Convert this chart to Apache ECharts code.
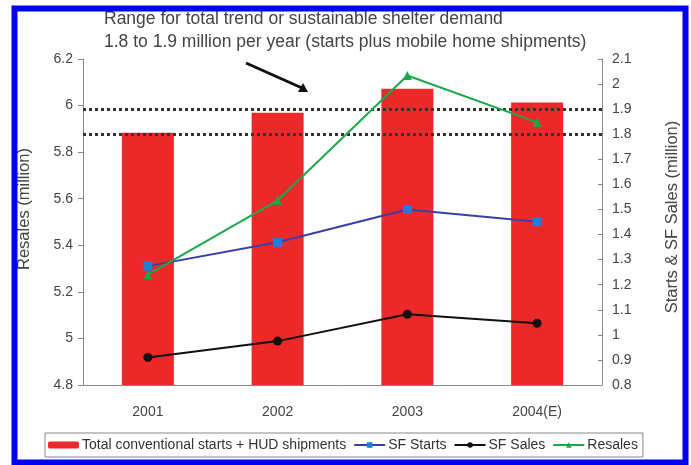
<!DOCTYPE html>
<html>
<head>
<meta charset="utf-8">
<script src="https://cdn.jsdelivr.net/npm/echarts@6/dist/echarts.min.js"></script>
<style>html,body{margin:0;padding:0;background:#fff}#c{width:691px;height:465px}</style>
</head>
<body>
<div id="c"></div>
<script>
const categories = ['2001', '2002', '2003', '2004(E)'];
const totalStarts = [1.806, 1.886, 1.981, 1.927];
const sfStarts = [1.274, 1.369, 1.50, 1.451];
const sfSales = [0.91, 0.975, 1.082, 1.046];
const resales = [5.274, 5.593, 6.129, 5.928];
const demandRange = [1.8, 1.9];
const noteLines = ['Range for total trend or sustainable shelter demand',
                   '1.8 to 1.9 million per year (starts plus mobile home shipments)'];

const FONT = '"Liberation Sans", Arial, sans-serif';
const chart = echarts.init(document.getElementById('c'));
chart.setOption({
  animation: false,
  backgroundColor: '#fff',
  grid: { left: 83, right: 89, top: 59, bottom: 80 },
  legend: {
    bottom: 8, left: 45,
    padding: [5, 5, 5, 3],
    borderColor: '#888', borderWidth: 1, borderRadius: 0,
    itemGap: 7, itemWidth: 31, itemHeight: 7,
    textStyle: { fontFamily: FONT, fontSize: 14, color: '#333', padding: [0, 0, 0, -2] },
    data: ['Total conventional starts + HUD shipments', 'SF Starts', 'SF Sales', 'Resales']
  },
  xAxis: {
    type: 'category', data: categories,
    axisLine: { lineStyle: { color: '#888' } },
    axisTick: { lineStyle: { color: '#888' }, length: 4 },
    axisLabel: { fontFamily: FONT, fontSize: 14, color: '#444', margin: 20 }
  },
  yAxis: [
    { type: 'value', min: 4.8, max: 6.2, interval: 0.2,
      name: 'Resales (million)', nameLocation: 'middle', nameRotate: 90, nameGap: 50,
      nameTextStyle: { fontFamily: FONT, fontSize: 16.5, color: '#444', padding: [0, 0, 0, 26] },
      axisLine: { show: true, lineStyle: { color: '#888' } },
      axisTick: { show: true, lineStyle: { color: '#888' }, length: 5 },
      splitLine: { show: false },
      axisLabel: { fontFamily: FONT, fontSize: 14, color: '#444', margin: 10,
                   formatter: v => String(+v.toFixed(1)) } },
    { type: 'value', min: 0.8, max: 2.1, interval: 0.1,
      name: 'Starts & SF Sales (million)', nameLocation: 'middle', nameRotate: 90, nameGap: 62,
      nameTextStyle: { fontFamily: FONT, fontSize: 16.5, color: '#444', padding: [0, 0, 0, 10] },
      axisLine: { show: true, lineStyle: { color: '#888' } },
      axisTick: { show: true, inside: true, lineStyle: { color: '#888' }, length: 4 },
      splitLine: { show: false },
      axisLabel: { fontFamily: FONT, fontSize: 14, color: '#444', margin: 10,
                   formatter: v => String(+v.toFixed(1)) } }
  ],
  series: [
    { name: 'Total conventional starts + HUD shipments', type: 'bar', yAxisIndex: 1,
      data: totalStarts, barWidth: 52, itemStyle: { color: '#ec2828' },
      markLine: { symbol: 'none', silent: true, label: { show: false },
        lineStyle: { color: '#333', type: 'dotted', width: 3 },
        data: demandRange.map(v => ({ yAxis: v })) } },
    { name: 'SF Starts', type: 'line', yAxisIndex: 1, data: sfStarts,
      symbol: 'rect', symbolSize: 9, lineStyle: { color: '#3a3fa8', width: 2 },
      itemStyle: { color: '#1f7fd6' } },
    { name: 'SF Sales', type: 'line', yAxisIndex: 1, data: sfSales,
      symbol: 'circle', symbolSize: 9, lineStyle: { color: '#111', width: 2 },
      itemStyle: { color: '#111' } },
    { name: 'Resales', type: 'line', yAxisIndex: 0, data: resales,
      symbol: 'triangle', symbolSize: 9, lineStyle: { color: '#19a84a', width: 2 },
      itemStyle: { color: '#19a84a' }, z: 5 }
  ],
  graphic: [
    { type: 'text', left: 104, top: 10, style: { text: noteLines[0], font: '17.5px ' + FONT, fill: '#444' } },
    { type: 'text', left: 104, top: 33, style: { text: noteLines[1], font: '17.5px ' + FONT, fill: '#444' } },
    { type: 'line', shape: { x1: 246, y1: 63, x2: 302, y2: 88 }, style: { stroke: '#111', lineWidth: 3 } },
    { type: 'polygon', shape: { points: [[308, 92], [298, 92], [303, 83]] }, style: { fill: '#111' } },
    { type: 'rect', shape: { x: 14.5, y: 8.5, width: 671, height: 454 },
      style: { fill: 'none', stroke: '#0000f0', lineWidth: 6 }, z: 100 }
  ]
});
</script>
</body>
</html>
